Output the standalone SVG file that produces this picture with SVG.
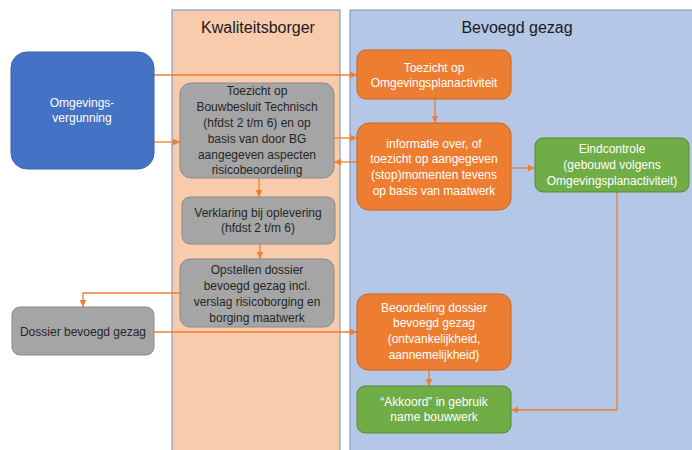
<svg xmlns="http://www.w3.org/2000/svg" width="692" height="450" viewBox="0 0 692 450">
<defs>
<marker id="ah" markerUnits="userSpaceOnUse" markerWidth="8" markerHeight="8" refX="7" refY="4" orient="auto">
<path d="M0,0.8 L7,4 L0,7.2 Z" fill="#ED7D31"/>
</marker>
</defs>
<style>
.lane-k{fill:#F8CBAD;stroke:#8FA3C8;stroke-width:1.3}
.lane-b{fill:#B4C7E7;stroke:#8FA3C8;stroke-width:1.3}
.hdr{font-family:"Liberation Sans",Arial,sans-serif;font-size:16px;fill:#1a1a1a;text-anchor:middle}
.gray{fill:#A5A5A5;stroke:#8A8A8A;stroke-width:1}
.orange{fill:#ED7D31;stroke:#C9651F;stroke-width:1}
.green{fill:#70AD47;stroke:#55893A;stroke-width:1}
.blue{fill:#4472C4;stroke:#3A62A8;stroke-width:1}
.t{font-family:"Liberation Sans",Arial,sans-serif;font-size:12px;text-anchor:middle}
.tw{fill:#ffffff}
.td{fill:#262626}
.ca{fill:none;stroke:#ED7D31;stroke-width:1.3;marker-end:url(#ah)}
</style>
<rect width="692" height="450" fill="#ffffff"/>
<g id="lane-kwaliteitsborger">
<rect class="lane-k" x="172" y="10" width="168" height="445"/>
<text class="hdr" x="258" y="33">Kwaliteitsborger</text>
</g>
<g id="lane-bevoegd-gezag">
<rect class="lane-b" x="350" y="10" width="350" height="445"/>
<text class="hdr" x="517" y="33">Bevoegd gezag</text>
</g>
<g id="connectors">
<path class="ca" d="M154,75 H357"/>
<path class="ca" d="M154,142 H180"/>
<path class="ca" d="M334,138 H357"/>
<path class="ca" d="M357,162 H334"/>
<path class="ca" d="M259,178 V197"/>
<path class="ca" d="M435,99 V123"/>
<path class="ca" d="M511,168 H535"/>
<path class="ca" d="M617,192 V410 H511"/>
<path class="ca" d="M260,244 V259"/>
<path class="ca" d="M180,293 H83 V307"/>
<path class="ca" d="M154,332 H357"/>
<path class="ca" d="M429,370 V386"/>
</g>
<g id="omgevingsvergunning">
<rect class="blue" x="11" y="52" width="143" height="117" rx="16"/>
<text class="t tw" x="82" y="107">Omgevings-</text>
<text class="t tw" x="82" y="122">vergunning</text>
</g>
<g id="toezicht-bouwbesluit">
<rect class="gray" x="180" y="83" width="154" height="95" rx="11"/>
<text class="t td" x="257" y="95">Toezicht op</text>
<text class="t td" x="257" y="111">Bouwbesluit Technisch</text>
<text class="t td" x="257" y="127">(hfdst 2 t/m 6) en op</text>
<text class="t td" x="257" y="143">basis van door BG</text>
<text class="t td" x="257" y="159">aangegeven aspecten</text>
<text class="t td" x="257" y="174">risicobeoordeling</text>
</g>
<g id="verklaring">
<rect class="gray" x="182" y="197" width="153" height="47" rx="8"/>
<text class="t td" x="258" y="217">Verklaring bij oplevering</text>
<text class="t td" x="258" y="232">(hfdst 2 t/m 6)</text>
</g>
<g id="opstellen-dossier">
<rect class="gray" x="180" y="259" width="154" height="68" rx="10"/>
<text class="t td" x="257" y="274">Opstellen dossier</text>
<text class="t td" x="257" y="290">bevoegd gezag incl.</text>
<text class="t td" x="257" y="306">verslag risicoborging en</text>
<text class="t td" x="257" y="322">borging maatwerk</text>
</g>
<g id="dossier-bevoegd-gezag">
<rect class="gray" x="12" y="307" width="142" height="48" rx="8"/>
<text class="t td" x="83" y="336">Dossier bevoegd gezag</text>
</g>
<g id="toezicht-omgevingsplan">
<rect class="orange" x="357" y="50" width="154" height="49" rx="9"/>
<text class="t tw" x="434" y="72">Toezicht op</text>
<text class="t tw" x="434" y="87">Omgevingsplanactiviteit</text>
</g>
<g id="informatie">
<rect class="orange" x="357" y="123" width="154" height="87" rx="12"/>
<text class="t tw" x="434" y="148">informatie over, of</text>
<text class="t tw" x="434" y="163">toezicht op aangegeven</text>
<text class="t tw" x="434" y="179">(stop)momenten tevens</text>
<text class="t tw" x="434" y="195">op basis van maatwerk</text>
</g>
<g id="eindcontrole">
<rect class="green" x="535" y="138" width="154" height="54" rx="8"/>
<text class="t tw" x="612" y="153">Eindcontrole</text>
<text class="t tw" x="612" y="169">(gebouwd volgens</text>
<text class="t tw" x="612" y="185">Omgevingsplanactiviteit)</text>
</g>
<g id="beoordeling-dossier">
<rect class="orange" x="357" y="294" width="154" height="76" rx="11"/>
<text class="t tw" x="434" y="312">Beoordeling dossier</text>
<text class="t tw" x="434" y="327">bevoegd gezag</text>
<text class="t tw" x="434" y="343">(ontvankelijkheid,</text>
<text class="t tw" x="434" y="359">aannemelijkheid)</text>
</g>
<g id="akkoord">
<rect class="green" x="357" y="386" width="154" height="47" rx="8"/>
<text class="t tw" x="434" y="406">“Akkoord” in gebruik</text>
<text class="t tw" x="434" y="421">name bouwwerk</text>
</g>
</svg>
